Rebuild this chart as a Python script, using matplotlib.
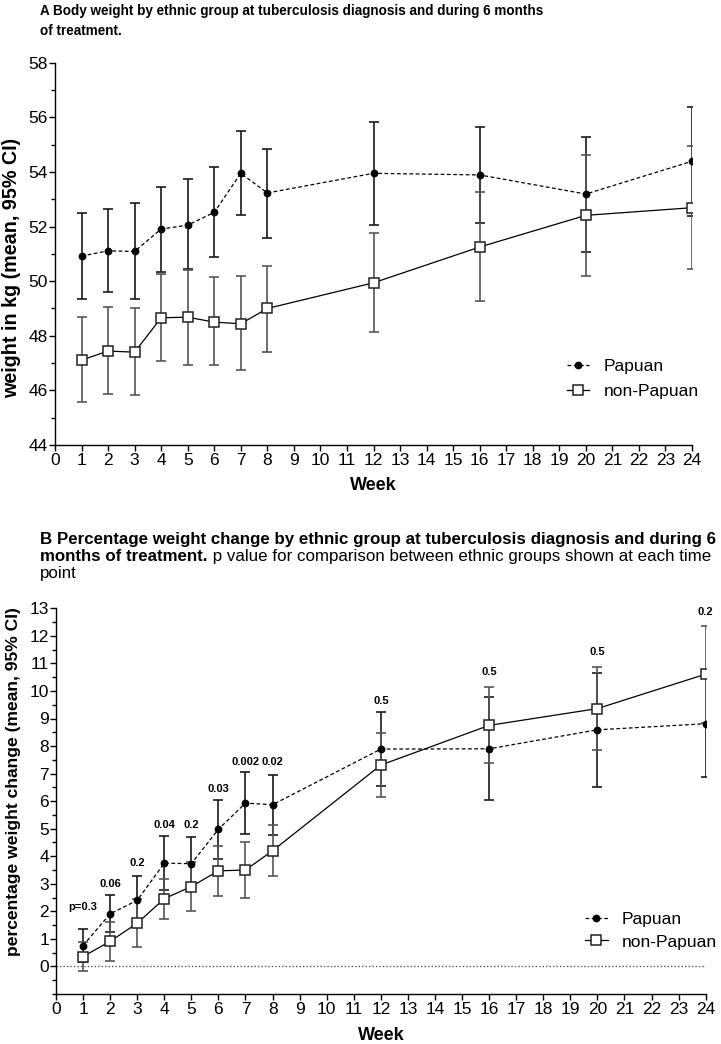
import matplotlib
matplotlib.use('Agg')
import matplotlib.pyplot as plt
from matplotlib.ticker import MultipleLocator
from matplotlib import font_manager as fm

weeks = [1, 2, 3, 4, 5, 6, 7, 8, 12, 16, 20, 24]

# Panel A: body weight (kg), mean with 95% CI
papuan_kg = [50.92, 51.11, 51.09, 51.91, 52.05, 52.52, 53.95, 53.23, 53.95, 53.89, 53.19, 54.39]
papuan_kg_lo = [49.36, 49.59, 49.33, 50.33, 50.44, 50.87, 52.41, 51.57, 52.07, 52.12, 51.08, 52.40]
papuan_kg_hi = [52.50, 52.65, 52.87, 53.46, 53.75, 54.19, 55.51, 54.85, 55.82, 55.66, 55.29, 56.38]
nonpap_kg = [47.11, 47.44, 47.40, 48.66, 48.68, 48.50, 48.44, 49.00, 49.94, 51.25, 52.41, 52.69]
nonpap_kg_lo = [45.56, 45.86, 45.83, 47.07, 46.92, 46.92, 46.73, 47.41, 48.15, 49.26, 50.19, 50.43]
nonpap_kg_hi = [48.70, 49.04, 49.01, 50.25, 50.42, 50.14, 50.20, 50.57, 51.75, 53.27, 54.62, 54.95]

# Panel B: percentage weight change, mean with 95% CI
papuan_pct = [0.76, 1.91, 2.40, 3.75, 3.73, 4.98, 5.93, 5.87, 7.89, 7.90, 8.59, 8.81]
papuan_pct_lo = [0.15, 1.25, 1.49, 2.76, 2.75, 3.91, 4.80, 4.78, 6.56, 6.05, 6.53, 6.89]
papuan_pct_hi = [1.37, 2.58, 3.30, 4.74, 4.71, 6.05, 7.05, 6.96, 9.22, 9.77, 10.65, 10.72]
nonpap_pct = [0.36, 0.91, 1.57, 2.46, 2.90, 3.47, 3.50, 4.20, 7.31, 8.75, 9.36, 10.61]
nonpap_pct_lo = [-0.18, 0.21, 0.70, 1.73, 2.02, 2.57, 2.49, 3.27, 6.15, 7.38, 7.86, 8.84]
nonpap_pct_hi = [0.90, 1.61, 2.45, 3.18, 3.78, 4.38, 4.50, 5.12, 8.47, 10.16, 10.86, 12.37]
p_labels = ['p=0.3', '0.06', '0.2', '0.04', '0.2', '0.03', '0.002', '0.02', '0.5', '0.5', '0.5', '0.2']
p_label_y = [2.15, 2.99, 3.75, 5.13, 5.13, 6.45, 7.42, 7.42, 9.62, 10.70, 11.41, 12.88]


def has_font(name):
    try:
        fm.findfont(fm.FontProperties(family=name), fallback_to_default=False)
        return True
    except ValueError:
        return False


base = 'Liberation Sans' if has_font('Liberation Sans') else 'DejaVu Sans'
narrow = 'Liberation Sans Narrow' if has_font('Liberation Sans Narrow') else base
plt.rcParams['font.family'] = [base, 'DejaVu Sans']

W, H = 721, 1044
fig = plt.figure(figsize=(W / 100, H / 100), dpi=100)


def px_axes(x0, x1, y0, y1):
    return fig.add_axes([x0 / W, 1 - y1 / H, (x1 - x0) / W, (y1 - y0) / H])


def err(mean, lo, hi):
    return [[m - l for m, l in zip(mean, lo)], [h - m for m, h in zip(mean, hi)]]


def draw_panel(ax, pap, pap_lo, pap_hi, non, non_lo, non_hi):
    ax.errorbar(weeks, pap, yerr=err(pap, pap_lo, pap_hi), fmt='none',
                ecolor='#1a1a1a', elinewidth=1.2, capsize=3.5, capthick=1.2, zorder=2)
    ax.errorbar(weeks, non, yerr=err(non, non_lo, non_hi), fmt='none',
                ecolor='#555555', elinewidth=1.2, capsize=3.5, capthick=1.2, zorder=2)
    ax.plot(weeks, pap, color='black', linestyle=(0, (3, 2)), linewidth=0.9,
            marker='o', markersize=4.6, label='Papuan', zorder=3)
    ax.plot(weeks, non, color='black', linestyle='-', linewidth=0.9,
            marker='s', markersize=6.5, markerfacecolor='white', markeredgecolor='#222222',
            markeredgewidth=1.1, label='non-Papuan', zorder=3)
    ax.spines['top'].set_visible(False)
    ax.spines['right'].set_visible(False)
    ax.set_xlim(0, 24)
    ax.xaxis.set_major_locator(MultipleLocator(1))
    ax.tick_params(axis='both', which='major', direction='out', length=4, width=1,
                   labelsize=12.5, pad=2, colors='black')
    ax.tick_params(axis='y', which='minor', direction='out', length=3, width=1)
    ax.tick_params(axis='y', which='major', pad=1)
    for sp in ['left', 'bottom']:
        ax.spines[sp].set_linewidth(1)


# ---- Panel A ----
axA = px_axes(55, 692, 62.7, 445)
draw_panel(axA, papuan_kg, papuan_kg_lo, papuan_kg_hi, nonpap_kg, nonpap_kg_lo, nonpap_kg_hi)
axA.set_ylim(44, 58)
axA.yaxis.set_major_locator(MultipleLocator(2))
axA.yaxis.set_minor_locator(MultipleLocator(1))
axA.set_xlabel('Week', fontsize=13, fontweight='bold')
axA.xaxis.set_label_coords(0.5, -0.083)
axA.set_ylabel('weight in kg (mean, 95% CI)', fontsize=14.2, fontweight='bold')
axA.yaxis.set_label_coords(-0.053, 0.464)
axA.legend(loc='center left', bbox_to_anchor=(567 / W, 1 - 379 / H),
           bbox_transform=fig.transFigure, frameon=False, fontsize=12.5,
           handlelength=1.25, handletextpad=0.85, labelspacing=0.55,
           borderpad=0, borderaxespad=0)

# ---- Panel B ----
axB = px_axes(56, 705.7, 608.3, 994)
draw_panel(axB, papuan_pct, papuan_pct_lo, papuan_pct_hi, nonpap_pct, nonpap_pct_lo, nonpap_pct_hi)
axB.set_ylim(-1, 13)
axB.set_yticks(range(0, 14))
axB.yaxis.set_minor_locator(MultipleLocator(0.5))
axB.axhline(0, color='#555555', linestyle=(0, (1, 1.5)), linewidth=1, zorder=1)
for w, lab, y in zip(weeks, p_labels, p_label_y):
    axB.text(w, y, lab, ha='center', va='center', fontsize=8, fontweight='bold')
axB.set_xlabel('Week', fontsize=13, fontweight='bold')
axB.xaxis.set_label_coords(0.5, -0.085)
axB.set_ylabel('percentage weight change (mean, 95% CI)', fontsize=12.6, fontweight='bold')
axB.yaxis.set_label_coords(-0.054, 0.55)
axB.legend(loc='center left', bbox_to_anchor=(585 / W, 1 - 930.5 / H),
           bbox_transform=fig.transFigure, frameon=False, fontsize=12.5,
           handlelength=1.3, handletextpad=0.8, labelspacing=0.45,
           borderpad=0, borderaxespad=0)

# ---- Titles ----
fig.canvas.draw()
rend = fig.canvas.get_renderer()


def fit(t, target):
    w = t.get_window_extent(rend).width
    t.set_fontsize(t.get_fontsize() * target / w)


tA1 = fig.text(40 / W, 1 - 15 / H, 'A Body weight by ethnic group at tuberculosis diagnosis and during 6 months',
               family=[narrow, 'DejaVu Sans'], fontweight='bold', fontsize=12, va='baseline')
fit(tA1, 500)
fig.text(40 / W, 1 - 35 / H, 'of treatment.', family=[narrow, 'DejaVu Sans'],
         fontweight='bold', fontsize=tA1.get_fontsize(), va='baseline')

tB1 = fig.text(40 / W, 1 - 544 / H, 'B Percentage weight change by ethnic group at tuberculosis diagnosis and during 6',
               fontweight='bold', fontsize=11, va='baseline')
fit(tB1, 678)
fsB = tB1.get_fontsize()
tB2 = fig.text(40 / W, 1 - 561 / H, 'months of treatment.', fontweight='bold', fontsize=fsB, va='baseline')
x_end = tB2.get_window_extent(rend).x1
fig.text(x_end / W, 1 - 561 / H, ' p value for comparison between ethnic groups shown at each time',
         fontsize=fsB, va='baseline')
fig.text(40 / W, 1 - 578 / H, 'point', fontsize=fsB, va='baseline')

fig.savefig('out.png', dpi=100)
